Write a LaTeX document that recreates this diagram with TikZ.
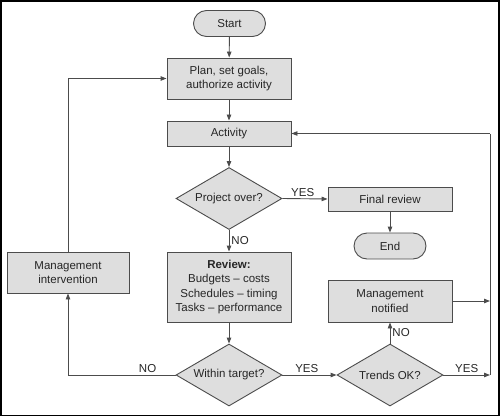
\documentclass[tikz,border=0pt]{standalone}
\usepackage{fontspec}
\setmainfont{Liberation Sans}
\usetikzlibrary{shapes.geometric,shapes.misc,arrows.meta}
\begin{document}
\begin{tikzpicture}[x=1pt,y=-1pt,
  font=\fontsize{11.5}{14.5}\selectfont,
  base/.style={draw=black!70,fill=black!13,line width=0.9pt,text=black!85,inner sep=1pt,align=center},
  box/.style={base,rectangle,minimum width=124,minimum height=25},
  term/.style={base,rounded rectangle,minimum width=74,minimum height=26},
  dec/.style={base,diamond,aspect=1.74,inner sep=0pt,minimum width=106,minimum height=62},
  conn/.style={draw=black!70,line width=0.9pt,-{Triangle[length=6pt,width=4.5pt]}},
  plain/.style={draw=black!70,line width=0.9pt},
  lbl/.style={text=black!85,inner sep=2pt}]
\useasboundingbox (0,0) rectangle (500,417);
\draw[line width=1.5pt] (1,1) rectangle (499,415.5);

\node[term] (start) at (229.5,23.5) {Start};
\node[box,minimum height=41] (plan) at (229,78.5) {Plan, set goals,\\authorize activity};
\node[box] (act) at (229,133.5) {Activity};
\node[dec] (proj) at (229,198.5) {Project over?};
\node[box,minimum height=24] (final) at (390,199) {Final review};
\node[term] (end) at (390,246) {End};
\node[box,minimum height=70] (review) at (229,287) {\textbf{Review:}\\Budgets -- costs\\Schedules -- timing\\Tasks -- performance};
\node[box,minimum height=42] (notif) at (390,301) {Management\\notified};
\node[dec] (within) at (229,375) {Within target?};
\node[dec] (trends) at (390,375) {Trends OK?};
\node[box,minimum width=122,minimum height=41] (mgmt) at (68,272.5) {Management\\intervention};
\coordinate (rt) at (490,375);
\coordinate (rtop) at (490,133.5);

\draw[conn] (start) -- (plan);
\draw[conn] (plan) -- (act);
\draw[conn] (act) -- (proj.north);
\draw[conn] (proj.east) -- node[lbl,above,pos=0.45] {YES} (final.west);
\draw[conn] (final) -- (end);
\draw[conn] (proj.south) -- node[lbl,right] {NO} (review.north);
\draw[conn] (review) -- (within.north);
\draw[conn] (within.east) -- node[lbl,above,pos=0.45] {YES} (trends.west);
\draw[conn] (trends.north) -- node[lbl,right] {NO} (notif.south);
\draw[conn] (within.west) -| node[lbl,above,pos=0.13] {NO} (mgmt.south);
\draw[conn] (mgmt.north) |- (plan.west);
\draw[conn] (trends.east) -- node[lbl,above] {YES} (rt);
\draw[conn] (notif.east) -- (notif.east -| rt);
\draw[plain] (rt) -- (rtop);
\draw[conn] (rtop) -- (act.east);
\end{tikzpicture}
\end{document}
